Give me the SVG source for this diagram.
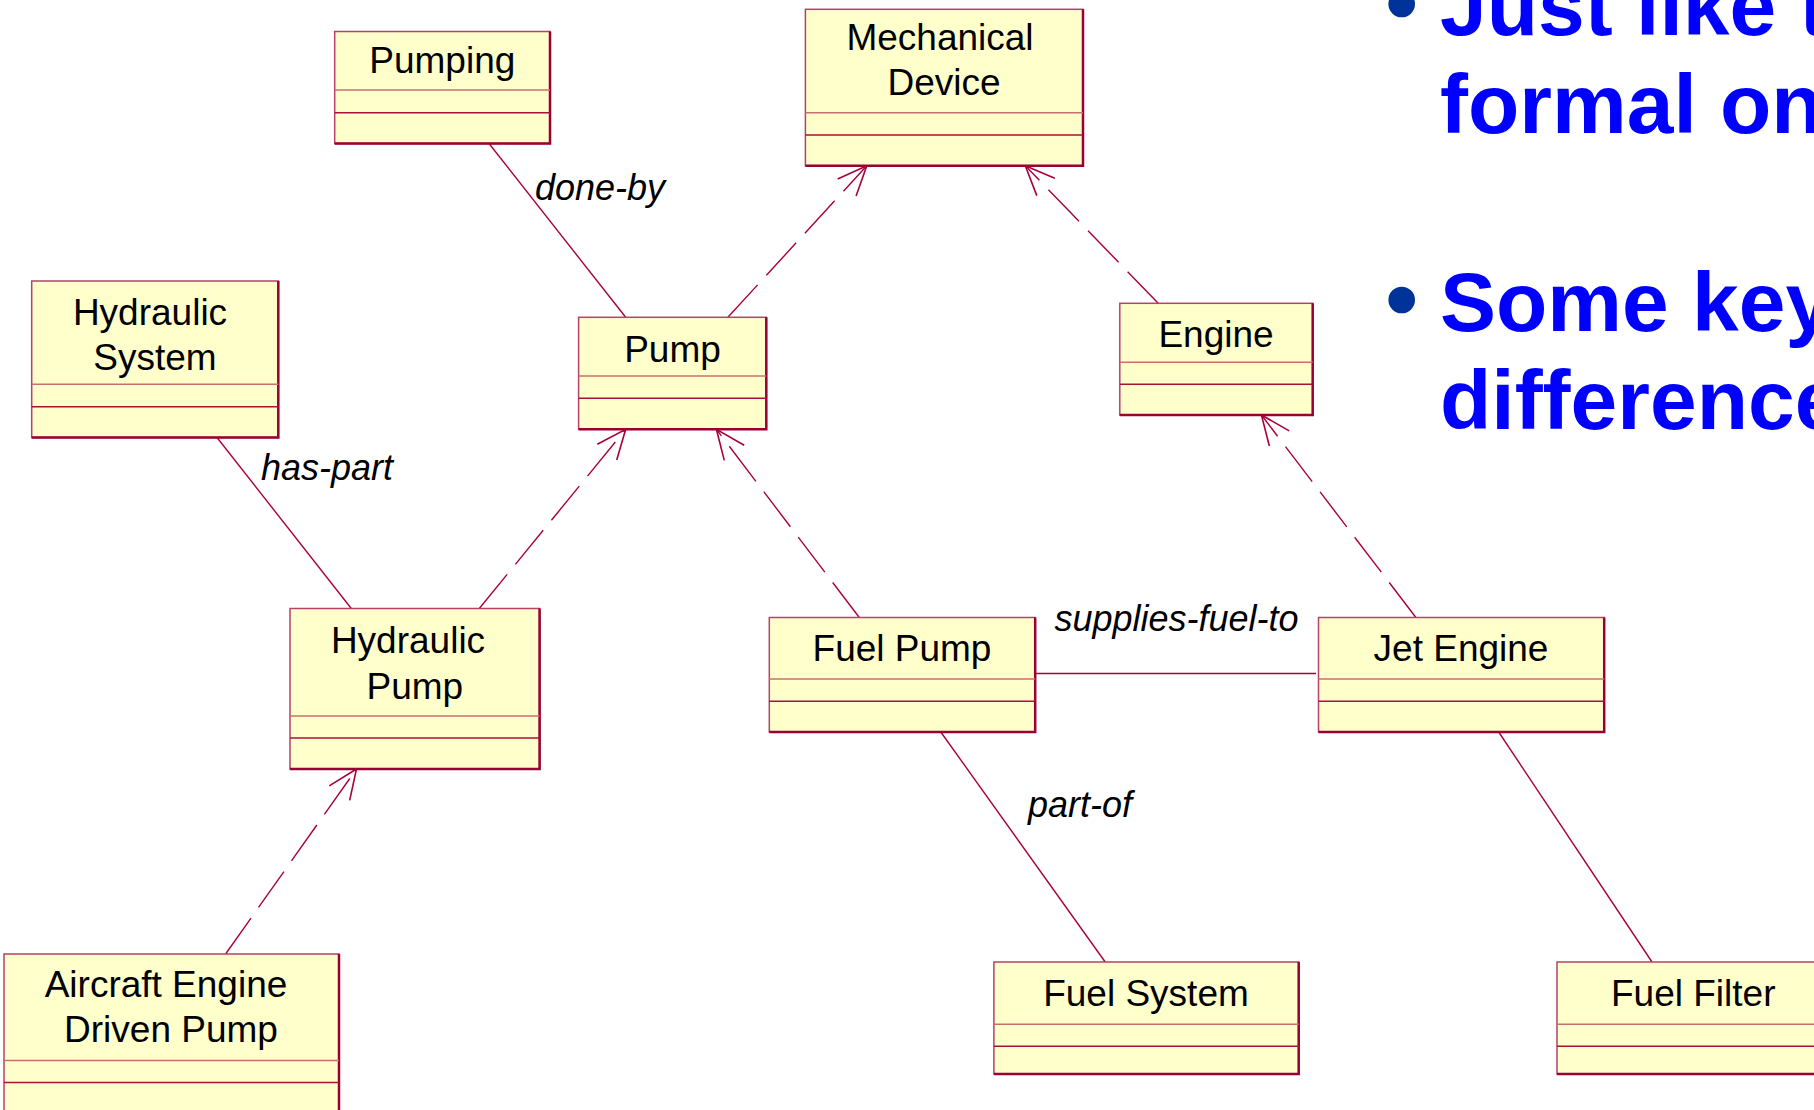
<svg xmlns="http://www.w3.org/2000/svg" width="1814" height="1110" viewBox="0 0 1814 1110">
<defs>
<style>
.box{fill:#FFFFCC;stroke:#B8406A;stroke-width:1.5}
.br{fill:none;stroke:#990033;stroke-width:2.5}
.d1{stroke:#C87070;stroke-width:1.5}
.d2{stroke:#A8103C;stroke-width:1.5}
.nm{font-family:"Liberation Sans",Arial,sans-serif;font-size:37px;fill:#000;text-anchor:middle}
.lbl{font-family:"Liberation Sans",Arial,sans-serif;font-size:36px;font-style:italic;fill:#000}
.solid{fill:none;stroke:#A8003C;stroke-width:1.4}
.dash{fill:none;stroke:#A8003C;stroke-width:1.4;stroke-dasharray:44 13;marker-end:url(#open)}
.bul{font-family:"Liberation Sans",Arial,sans-serif;font-size:84px;font-weight:bold;fill:#0000FF}
</style>
<marker id="open" markerUnits="userSpaceOnUse" markerWidth="40" markerHeight="40" viewBox="-35 -20 40 40" refX="0" refY="0" orient="auto">
<path d="M -29.5 -12.5 L 0 0 L -29.5 12.5" fill="none" stroke="#A8003C" stroke-width="1.6"/>
</marker>
</defs>
<rect width="1814" height="1110" fill="#FFFFFF"/>

<g id="connectors">
<line class="solid" x1="489" y1="143.5" x2="625.7" y2="317.3"/>
<line class="dash" x1="727.9" y1="317.3" x2="866.8" y2="165.7"/>
<line class="dash" x1="1158.2" y1="303.3" x2="1025.3" y2="165.7"/>
<line class="solid" x1="217" y1="437.5" x2="351.3" y2="608.5"/>
<line class="dash" x1="479.3" y1="608.5" x2="625.7" y2="429.3"/>
<line class="dash" x1="859.3" y1="617.5" x2="716.4" y2="429.3"/>
<line class="dash" x1="1415.9" y1="617.5" x2="1261.4" y2="415"/>
<line class="dash" x1="225.6" y1="954" x2="356.5" y2="769"/>
<line class="solid" x1="1035.2" y1="673.5" x2="1316" y2="673.5"/>
<line class="solid" x1="940.8" y1="732" x2="1105.2" y2="962"/>
<line class="solid" x1="1498.7" y1="732" x2="1652" y2="962"/>
<text class="lbl" x="535" y="200">done-by</text>
<text class="lbl" x="261" y="480">has-part</text>
<text class="lbl" x="1054.5" y="631">supplies-fuel-to</text>
<text class="lbl" x="1028" y="817">part-of</text>
</g>

<g id="pumping">
<rect class="box" x="334.7" y="31.5" width="215.3" height="112"/>
<polyline class="br" points="550,31.5 550,143.5 334.7,143.5"/>
<line class="d1" x1="334.7" y1="90" x2="550" y2="90"/>
<line class="d2" x1="334.7" y1="112.7" x2="550" y2="112.7"/>
<text class="nm" x="442.3" y="72.7">Pumping</text>
</g>

<g id="mechanical-device">
<rect class="box" x="805.4" y="9.3" width="277.6" height="156.4"/>
<polyline class="br" points="1083,9.3 1083,165.7 805.4,165.7"/>
<line class="d1" x1="805.4" y1="112.7" x2="1083" y2="112.7"/>
<line class="d2" x1="805.4" y1="135" x2="1083" y2="135"/>
<text class="nm" x="940" y="50">Mechanical</text>
<text class="nm" x="944" y="95">Device</text>
</g>

<g id="hydraulic-system">
<rect class="box" x="31.7" y="281" width="246.6" height="156.5"/>
<polyline class="br" points="278.3,281 278.3,437.5 31.7,437.5"/>
<line class="d1" x1="31.7" y1="384.3" x2="278.3" y2="384.3"/>
<line class="d2" x1="31.7" y1="406.7" x2="278.3" y2="406.7"/>
<text class="nm" x="150" y="325">Hydraulic</text>
<text class="nm" x="155" y="370">System</text>
</g>

<g id="pump">
<rect class="box" x="578.6" y="317.3" width="187.7" height="112"/>
<polyline class="br" points="766.3,317.3 766.3,429.3 578.6,429.3"/>
<line class="d1" x1="578.6" y1="376" x2="766.3" y2="376"/>
<line class="d2" x1="578.6" y1="398.3" x2="766.3" y2="398.3"/>
<text class="nm" x="672.5" y="361.7">Pump</text>
</g>

<g id="engine">
<rect class="box" x="1119.8" y="303.3" width="192.9" height="111.7"/>
<polyline class="br" points="1312.7,303.3 1312.7,415 1119.8,415"/>
<line class="d1" x1="1119.8" y1="362.3" x2="1312.7" y2="362.3"/>
<line class="d2" x1="1119.8" y1="384.3" x2="1312.7" y2="384.3"/>
<text class="nm" x="1216" y="346.7">Engine</text>
</g>

<g id="hydraulic-pump">
<rect class="box" x="290" y="608.5" width="249.6" height="160.5"/>
<polyline class="br" points="539.6,608.5 539.6,769 290,769"/>
<line class="d1" x1="290" y1="716" x2="539.6" y2="716"/>
<line class="d2" x1="290" y1="738" x2="539.6" y2="738"/>
<text class="nm" x="408" y="653">Hydraulic</text>
<text class="nm" x="414.8" y="698.6">Pump</text>
</g>

<g id="fuel-pump">
<rect class="box" x="769.3" y="617.5" width="265.9" height="114.5"/>
<polyline class="br" points="1035.2,617.5 1035.2,732 769.3,732"/>
<line class="d1" x1="769.3" y1="679" x2="1035.2" y2="679"/>
<line class="d2" x1="769.3" y1="701.3" x2="1035.2" y2="701.3"/>
<text class="nm" x="902" y="661">Fuel Pump</text>
</g>

<g id="jet-engine">
<rect class="box" x="1318.5" y="617.5" width="285.7" height="114.5"/>
<polyline class="br" points="1604.2,617.5 1604.2,732 1318.5,732"/>
<line class="d1" x1="1318.5" y1="679" x2="1604.2" y2="679"/>
<line class="d2" x1="1318.5" y1="701.3" x2="1604.2" y2="701.3"/>
<text class="nm" x="1461" y="661">Jet Engine</text>
</g>

<g id="aircraft-engine-driven-pump">
<rect class="box" x="4" y="954" width="335" height="170"/>
<polyline class="br" points="339,954 339,1124"/>
<line class="d1" x1="4" y1="1060.4" x2="339" y2="1060.4"/>
<line class="d2" x1="4" y1="1082.5" x2="339" y2="1082.5"/>
<text class="nm" x="166" y="997.3">Aircraft Engine</text>
<text class="nm" x="171" y="1041.7">Driven Pump</text>
</g>

<g id="fuel-system">
<rect class="box" x="993.9" y="962" width="304.8" height="112"/>
<polyline class="br" points="1298.7,962 1298.7,1074 993.9,1074"/>
<line class="d1" x1="993.9" y1="1024.3" x2="1298.7" y2="1024.3"/>
<line class="d2" x1="993.9" y1="1046.3" x2="1298.7" y2="1046.3"/>
<text class="nm" x="1146" y="1005.6">Fuel System</text>
</g>

<g id="fuel-filter">
<rect class="box" x="1557" y="962" width="280" height="112"/>
<polyline class="br" points="1837,1074 1557,1074"/>
<line class="d1" x1="1557" y1="1024.3" x2="1837" y2="1024.3"/>
<line class="d2" x1="1557" y1="1046.3" x2="1837" y2="1046.3"/>
<text class="nm" x="1611" y="1005.6" style="text-anchor:start">Fuel Filter</text>
</g>

<g id="bullets">
<circle cx="1401.7" cy="4" r="13.3" fill="#003399"/>
<text class="bul" x="1440" y="35">Just like t</text>
<text class="bul" x="1440" y="133.3">formal on</text>
<circle cx="1401.7" cy="300" r="13.3" fill="#003399"/>
<text class="bul" x="1440" y="331">Some key</text>
<text class="bul" x="1440" y="429">difference</text>
</g>
</svg>
